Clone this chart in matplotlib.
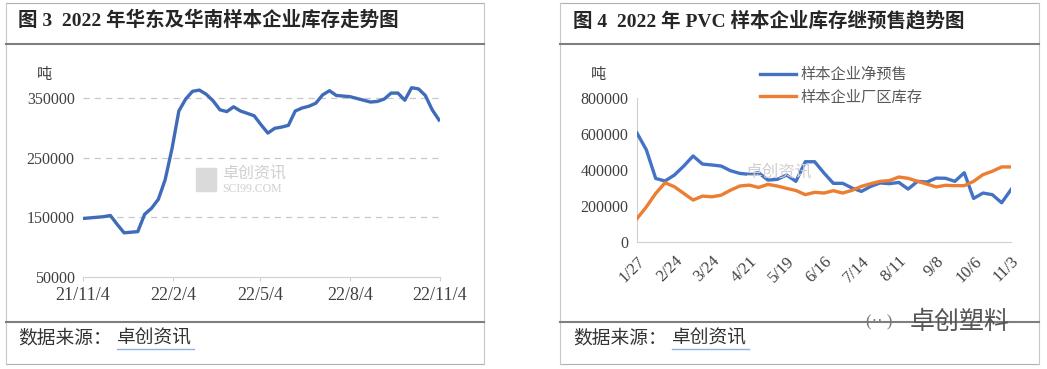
import numpy as np
import pandas as pd
import matplotlib
matplotlib.use('Agg')
import matplotlib.pyplot as plt
from matplotlib.lines import Line2D

plt.rcParams['font.family'] = ['Liberation Serif', 'Noto Sans CJK SC', 'DejaVu Sans']

# ---- data: chart 3, weekly inventory East + South China (tonnes)
east_south_start = '2021-11-04'
east_south = [148000, 149000, 150000, 151000, 153000, 138000, 124000, 125000, 126000,
              155000, 165000, 180000, 213000, 265000, 328000, 348000, 361000, 363000,
              356000, 345000, 330000, 327000, 335000, 328000, 324000, 320000, 305000,
              291000, 299000, 301000, 304000, 328000, 333000, 336000, 341000, 355000,
              362000, 354000, 353000, 352000, 349000, 346000, 343000, 344000, 348000,
              358000, 358000, 346000, 367000, 365000, 354000, 330000, 313000]
left_ticks = ['2021-11-04', '2022-02-04', '2022-05-04', '2022-08-04', '2022-11-04']
left_tick_labels = ['21/11/4', '22/2/4', '22/5/4', '22/8/4', '22/11/4']

# ---- data: chart 4, weekly 2022 net pre-sales and plant inventory (tonnes)
week_start = '2022-01-27'
net_presale = [605000, 512000, 353000, 339000, 372000, 422000, 478000, 433000, 428000,
               422000, 396000, 381000, 376000, 385000, 344000, 348000, 372000, 337000,
               446000, 446000, 383000, 326000, 326000, 300000, 281000, 309000, 328000,
               324000, 331000, 294000, 337000, 333000, 355000, 354000, 337000, 385000,
               242000, 272000, 263000, 218000, 291000]
plant_stock = [130000, 195000, 270000, 329000, 307000, 270000, 233000, 255000, 251000,
               260000, 288000, 311000, 316000, 303000, 320000, 311000, 298000, 286000,
               263000, 276000, 272000, 285000, 272000, 287000, 309000, 324000, 337000,
               341000, 361000, 354000, 337000, 322000, 306000, 315000, 313000, 313000,
               337000, 374000, 393000, 417000, 417000]
series_names = ['样本企业净预售', '样本企业厂区库存']

W, H = 1047, 369
fig = plt.figure(figsize=(W / 100, H / 100), dpi=100)

def fx(x):
    return x / W

def fy(y):
    return 1 - y / H

def hline(x0, x1, y, color, lw):
    fig.add_artist(Line2D([fx(x0), fx(x1)], [fy(y), fy(y)], color=color, lw=lw,
                          transform=fig.transFigure))

def vline(x, y0, y1, color, lw):
    fig.add_artist(Line2D([fx(x), fx(x)], [fy(y0), fy(y1)], color=color, lw=lw,
                          transform=fig.transFigure))

txt = '#404040'
blue = '#4472C4'
orange = '#ED7D31'

# frames of both panels
for x0, x1 in [(6, 484), (560, 1039)]:
    hline(x0, x1, 3, '#b0b0b0', 0.8)
    hline(x0, x1, 364, '#b0b0b0', 0.8)
    vline(x0, 3, 364, '#c8c8c8', 0.8)
    vline(x1, 3, 364, '#c8c8c8', 0.8)
    hline(x0, x1, 44, '#7f7f7f', 1.5)
    hline(x0, x1, 322, '#7f7f7f', 1.5)

fig.text(fx(18), fy(20), '图 3  2022 年华东及华南样本企业库存走势图', fontsize=14,
         fontweight='bold', color='#262626', va='center')
fig.text(fx(573), fy(20), '图 4  2022 年 PVC 样本企业库存继预售趋势图', fontsize=14,
         fontweight='bold', color='#262626', va='center')

for x0 in [18, 573]:
    fig.text(fx(x0), fy(339), '数据来源：', fontsize=13.5, color='#333333', va='center')
    fig.text(fx(x0 + 99), fy(339), '卓创资讯', fontsize=13.5, color='#333333', va='center')
    hline(x0 + 99, x0 + 176, 349, '#8fb0e0', 1.0)

# ---- left chart
d0 = pd.Timestamp(east_south_start)
dates = pd.date_range(d0, periods=len(east_south), freq='7D')
axl = fig.add_axes([fx(83), fy(277), fx(440) - fx(83), fy(68) - fy(277)])
axl.plot(dates, east_south, color='#3f6cb8', lw=2.4, solid_joinstyle='round', zorder=3)
axl.set_xlim(pd.Timestamp(left_ticks[0]), pd.Timestamp(left_ticks[-1]))
axl.set_ylim(50000, 400000)
axl.set_yticks([50000, 150000, 250000, 350000])
axl.set_yticklabels(['50000', '150000', '250000', '350000'])
axl.set_xticks([pd.Timestamp(t) for t in left_ticks])
axl.set_xticklabels(left_tick_labels)
for v in [150000, 250000, 350000]:
    axl.axhline(v, color='#c8c8c8', lw=0.9, ls=(0, (5, 4)), zorder=1)
for s in ['top', 'right', 'left']:
    axl.spines[s].set_visible(False)
axl.spines['bottom'].set_color('#d0d0d0')
axl.tick_params(axis='y', length=0, labelsize=11.5, labelcolor=txt, pad=6)
axl.tick_params(axis='x', length=3, color='#d0d0d0', labelsize=13, labelcolor=txt, pad=4)
axl.patch.set_alpha(0)
fig.text(fx(44), fy(75), '吨', fontsize=11, color=txt, va='center', ha='center')
fig.text(fx(222), fy(174), '卓创资讯', fontsize=11.5, color='#cfcfcf', va='center', zorder=0)
fig.text(fx(222), fy(189), 'SCI99.COM', fontsize=8.5, color='#cfcfcf', va='center', zorder=0)
fig.patches.append(plt.Rectangle((fx(196), fy(191)), fx(20), fy(168) - fy(191),
                                 transform=fig.transFigure, color='#dadada', zorder=0))

# ---- right chart
axr = fig.add_axes([fx(637), fy(242), fx(1011) - fx(637), fy(98) - fy(242)])
idx = np.arange(len(net_presale))
wk = pd.date_range(pd.Timestamp(week_start), periods=len(net_presale), freq='7D')
axr.plot(idx, net_presale, color=blue, lw=2.4, solid_joinstyle='round', label=series_names[0], zorder=3)
axr.plot(idx, plant_stock, color=orange, lw=2.4, solid_joinstyle='round', label=series_names[1], zorder=3)
axr.set_xlim(0, len(idx) - 1)
axr.set_ylim(0, 800000)
axr.set_yticks(np.arange(0, 800001, 200000))
axr.set_yticklabels([str(v) for v in range(0, 800001, 200000)])
tick_idx = idx[::4]
axr.set_xticks(tick_idx)
axr.set_xticklabels([f'{wk[i].month}/{wk[i].day}' for i in tick_idx], rotation=45,
                    ha='right', va='top', rotation_mode='anchor')
for s in ['top', 'right']:
    axr.spines[s].set_visible(False)
axr.spines['left'].set_color('#d0d0d0')
axr.spines['bottom'].set_color('#d0d0d0')
axr.tick_params(axis='y', length=0, labelsize=11.5, labelcolor=txt, pad=6)
axr.tick_params(axis='x', length=0, labelsize=12, labelcolor=txt, pad=8)
axr.patch.set_alpha(0)
fig.text(fx(598), fy(75), '吨', fontsize=11, color=txt, va='center', ha='center')
fig.text(fx(745), fy(172), '卓创资讯', fontsize=12, color='#cfcfcf', va='center', zorder=0)
leg = axr.legend(loc='upper left', bbox_to_anchor=(fx(752), fy(60)),
                 bbox_transform=fig.transFigure, frameon=False, fontsize=11,
                 handlelength=2.4, handletextpad=0.25, labelspacing=0.55, borderpad=0)
for t in leg.get_texts():
    t.set_color('#595959')

# wechat badge
fig.text(fx(910), fy(322), '卓创塑料', fontsize=18, color='#555555', va='center',
         family=['Noto Sans CJK SC'], zorder=5)
fig.text(fx(866), fy(322), '(·· )', fontsize=12, color='#777777', va='center', zorder=5)

fig.savefig('out.png', dpi=100)
